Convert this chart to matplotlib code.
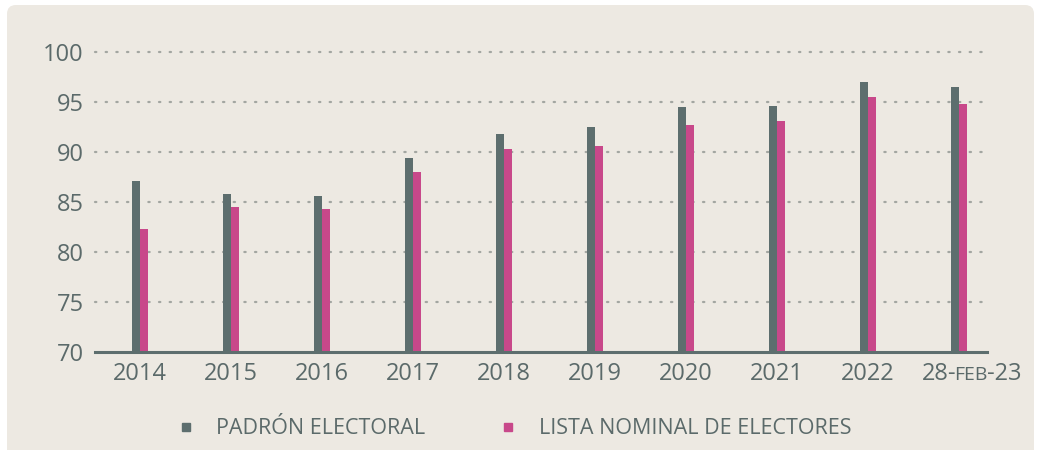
import matplotlib
matplotlib.use('Agg')
import matplotlib.pyplot as plt
import numpy as np
from matplotlib.lines import Line2D
from matplotlib.patches import FancyBboxPatch
from matplotlib.offsetbox import TextArea, HPacker, AnnotationBbox

# data (millions of people)
years = ['2014', '2015', '2016', '2017', '2018', '2019', '2020', '2021', '2022', '28-FEB-23']
padron = [87.1, 85.8, 85.6, 89.4, 91.8, 92.5, 94.5, 94.6, 97.0, 96.5]
lista = [82.3, 84.5, 84.3, 88.0, 90.3, 90.6, 92.7, 93.1, 95.5, 94.8]
series_names = ['PADRÓN ELECTORAL', 'LISTA NOMINAL DE ELECTORES']
yticks = [70, 75, 80, 85, 90, 95, 100]

textColor = '#5b6a6a'
padronColor = '#5d6e6e'
listaColor = '#c8488a'
bgColor = '#ede9e2'
gridColor = '#a3a6a1'

plt.rcParams['font.family'] = ['Open Sans', 'DejaVu Sans']

fig = plt.figure(figsize=(10.37, 4.5), dpi=100)
fig.patch.set_facecolor('white')

# rounded card behind the chart
card = FancyBboxPatch((0.07, -0.5), 10.27, 4.95, boxstyle='round,pad=0,rounding_size=0.09',
                      transform=fig.dpi_scale_trans, facecolor=bgColor, edgecolor='none', zorder=-5)
fig.patches.append(card)

ax = fig.add_axes([95 / 1037, 1 - 352 / 450, (987 - 95) / 1037, (352 - 51.5) / 450])
ax.set_facecolor('none')
ax.set_zorder(2)

x = np.arange(len(years))
w = 0.088
ax.bar(x - w / 2, padron, w, bottom=0, color=padronColor, zorder=3)
ax.bar(x + w / 2, lista, w, bottom=0, color=listaColor, zorder=3)

ax.set_ylim(70, 100)
ax.set_xlim(-0.495, 9.31)
ax.set_yticks(yticks)
ax.set_xticks(x)
ax.set_xticklabels(years[:-1] + [''])

for y in yticks[1:]:
    ax.axhline(y, color=gridColor, lw=1.6, linestyle=(0, (0.6, 4.2)), dash_capstyle='round',
               zorder=1, clip_on=False)

for s in ['top', 'right', 'left']:
    ax.spines[s].set_visible(False)
ax.spines['bottom'].set_color(padronColor)
ax.spines['bottom'].set_linewidth(2.2)
ax.spines['bottom'].set_zorder(4)

ax.tick_params(axis='both', length=0, labelsize=17, colors=textColor)
ax.tick_params(axis='x', pad=7)
ax.tick_params(axis='y', pad=8)

# last label with small caps month
parts = [TextArea('28-', textprops=dict(fontsize=17, color=textColor)),
         TextArea('FEB', textprops=dict(fontsize=14, color=textColor)),
         TextArea('-23', textprops=dict(fontsize=17, color=textColor))]
box = HPacker(children=parts, align='baseline', pad=0, sep=-1)
ab = AnnotationBbox(box, (x[-1], 0), xycoords=ax.get_xaxis_transform(),
                    xybox=(9, -7), boxcoords='offset points', box_alignment=(0.5, 1),
                    frameon=False, annotation_clip=False)
ax.add_artist(ab)

handles = [Line2D([], [], marker='s', ls='', ms=5.5, color=padronColor),
           Line2D([], [], marker='s', ls='', ms=5.5, color=listaColor)]
leg = fig.legend(handles, series_names, loc='center', bbox_to_anchor=(0.495, 1 - 429 / 450),
                 ncol=2, frameon=False, fontsize=15.5, labelcolor=textColor,
                 handlelength=1.0, handletextpad=0.9, columnspacing=3.35)

plt.savefig('out.png', dpi=100, facecolor=fig.get_facecolor())
